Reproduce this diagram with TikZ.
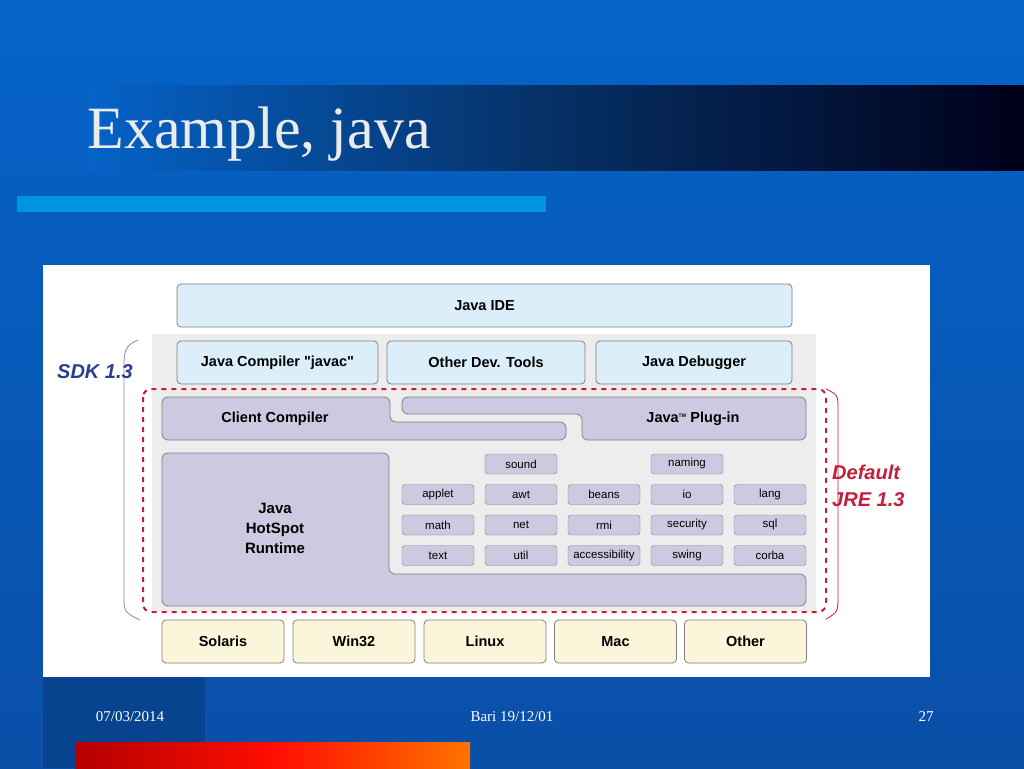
\documentclass[tikz,border=0pt]{standalone}
\usepackage{fontspec}
\setmainfont{Liberation Serif}
\newfontfamily\diagsf{Liberation Sans}
\usetikzlibrary{positioning}
\definecolor{bg}{HTML}{0563C8}
\definecolor{bgdark}{HTML}{0A4FA8}
\definecolor{lightbar}{HTML}{0095E0}
\definecolor{ide}{HTML}{DCEEFA}
\definecolor{lav}{HTML}{CCCAE0}
\definecolor{os}{HTML}{FBF6DA}
\definecolor{edge}{HTML}{808080}
\definecolor{sdk}{HTML}{2B3F8C}
\definecolor{jre}{HTML}{C41E3A}
\tikzset{
  box/.style={draw=edge, rounded corners=4pt, line width=0.8pt, font=\diagsf\bfseries\fontsize{14.5}{17}\selectfont},
  lib/.style={draw=edge, fill=lav, rounded corners=3pt, minimum width=72pt, minimum height=20pt, inner sep=0pt, font=\diagsf\fontsize{11.5}{13}\selectfont},
  foot/.style={text=white, font=\fontsize{15}{17}\selectfont}
}
\begin{document}
\begin{tikzpicture}[x=1pt,y=-1pt]
	\useasboundingbox (0,0) rectangle (1024,768);
	\shade[top color=bg, bottom color=bgdark] (0,0) rectangle (1024,768);
	\shade[left color=bg, right color=black!90!blue, middle color=bgdark!60!black] (85,85) rectangle (1024,170);
	\node[anchor=west, text=black!8, font=\fontsize{60}{66}\selectfont] (title) at (84,134) {Example, java};
	\fill[lightbar] (17,196) rectangle (546,212);
	% panel
	\fill[white] (43,265) rectangle (930,677);
	\fill[black!7] (152,334) rectangle (816,612);
	\node[box, fill=ide, minimum width=615pt, minimum height=43pt] (ide) at (484.5,305.5) {Java IDE};
	\node[box, fill=ide, minimum width=201pt, minimum height=43pt] (javac) at (277.5,362.5) {Java Compiler "javac"};
	\node[box, fill=ide, minimum width=198pt, minimum height=43pt] (devtools) at (486,362.5) {Other Dev. Tools};
	\node[box, fill=ide, minimum width=196pt, minimum height=43pt] (debug) at (694,362.5) {Java Debugger};
	% client compiler and plug-in
	\draw[edge, fill=lav, line width=0.8pt, rounded corners=6pt] (162,397) -- (390,397) -- (390,422) -- (566,422) -- (566,440) -- (162,440) -- cycle;
	\draw[edge, fill=lav, line width=0.8pt, rounded corners=6pt] (402,397) -- (806,397) -- (806,440) -- (582,440) -- (582,414) -- (402,414) -- cycle;
	\node[font=\diagsf\bfseries\fontsize{14.5}{17}\selectfont] (client) at (275,419) {Client Compiler};
	\node[font=\diagsf\bfseries\fontsize{14.5}{17}\selectfont] (plugin) at (693,419) {Java\textsuperscript{\tiny TM} Plug-in};
	% hotspot
	\draw[edge, fill=lav, line width=0.8pt, rounded corners=6pt] (162,453) -- (389,453) -- (389,574) -- (806,574) -- (806,606) -- (162,606) -- cycle;
	\node[align=center, font=\diagsf\bfseries\fontsize{15}{20}\selectfont] (hotspot) at (275,528) {Java\\HotSpot\\Runtime};
	\node[lib] (sound) at (521,464) {sound};
	\node[lib] (naming) at (687,464) {naming};
	\foreach \a/\b/\c/\d/\e [count=\i] in {applet/awt/beans/io/lang, math/net/rmi/security/sql, text/util/accessibility/swing/corba}{
		\node[lib] (\a) at (438,464+30.5*\i) {\a};
		\node[lib] (\b) at (521,464+30.5*\i) {\b};
		\node[lib] (\c) at (604,464+30.5*\i) {\c};
		\node[lib] (\d) at (687,464+30.5*\i) {\d};
		\node[lib] (\e) at (770,464+30.5*\i) {\e};
	}
	\draw[jre, line width=2pt, dash pattern=on 5pt off 5pt, rounded corners=8pt] (143,389) rectangle (826,612);
	% operating systems
	\foreach \n/\x in {Solaris/223, Win32/354, Linux/485, Mac/615.5, Other/745.5}
		\node[box, fill=os, minimum width=122pt, minimum height=43pt] (\n) at (\x,641.5) {\n};
	% braces
	\draw[sdk!60, line width=0.8pt] (138,340) .. controls (124,346) and (124,352) .. (124,370) -- (124,595) .. controls (124,612) .. (140,620);
	\draw[jre, line width=0.8pt] (826,389) .. controls (838,395) .. (838,410) -- (838,595) .. controls (838,612) .. (826,619);
	\node[text=sdk, font=\diagsf\bfseries\itshape\fontsize{20}{22}\selectfont] (sdklbl) at (95,372) {SDK 1.3};
	\node[anchor=west, text=jre, align=left, inner sep=0pt, font=\diagsf\bfseries\itshape\fontsize{20}{27}\selectfont] (jrelbl) at (832,486) {Default\\JRE 1.3};
	% footer
	\fill[bgdark!85!black] (43,677) rectangle (205,768);
	\shade[left color=red!70!black, right color=orange!90!red, middle color=red!90!orange] (75,742) rectangle (470,768);
	\node[foot] (date) at (130,717) {07/03/2014};
	\node[foot] (place) at (512,717) {Bari 19/12/01};
	\node[foot] (page) at (926,717) {27};
\end{tikzpicture}
\end{document}
